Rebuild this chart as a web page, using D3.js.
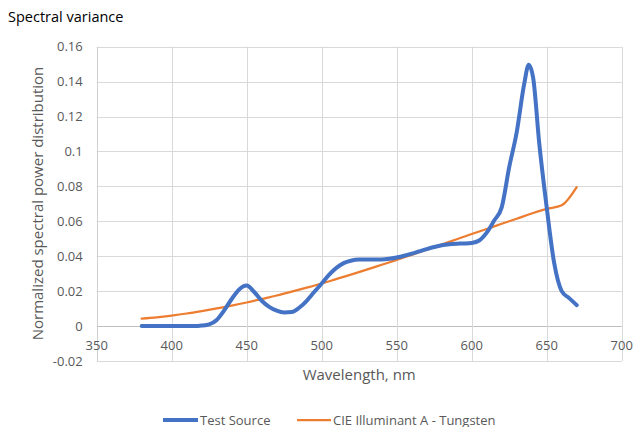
<!DOCTYPE html>
<html><head><meta charset="utf-8">
<script src="https://cdn.jsdelivr.net/npm/d3@7"></script>
<style>body{margin:0;background:#fff}svg{display:block}text{font-family:"Open Sans",sans-serif}</style>
</head><body><svg id="c" width="635" height="427"></svg>
<script>
const title = "Spectral variance";
const xTicks = [350,400,450,500,550,600,650,700];
const yTicks = [-0.02,0,0.02,0.04,0.06,0.08,0.1,0.12,0.14,0.16];
const yTickLabels = ["-0.02","0","0.02","0.04","0.06","0.08","0.1","0.12","0.14","0.16"];
const testWl = [380,385,390,395,400,405,410,415,420,425,430,435,440,445,450,455,460,465,470,475,480,485,490,495,500,505,510,515,520,525,530,535,540,545,550,555,560,565,570,575,580,585,590,595,600,605,610,615,620,625,630,635,638,641,645,650,655,660,665,670];
const testVal = [0,0,0,0,0,0,0,0,0.0003,0.001,0.0035,0.009,0.0155,0.021,0.0232,0.0195,0.0145,0.011,0.0088,0.0078,0.008,0.0105,0.0145,0.0195,0.0244,0.0295,0.0335,0.0362,0.0376,0.0381,0.0382,0.0381,0.0381,0.0385,0.0393,0.0403,0.0415,0.0428,0.0441,0.0453,0.0463,0.0469,0.0472,0.0473,0.0476,0.049,0.0535,0.0605,0.068,0.091,0.111,0.1387,0.1497,0.142,0.105,0.068,0.036,0.020,0.016,0.012];
const cieWl = [380,390,400,410,420,430,440,450,460,470,480,490,500,510,520,530,540,550,560,570,580,590,600,610,620,630,640,650,660,670];
const cieVal = [0.0043,0.005,0.006,0.0072,0.0086,0.0101,0.0117,0.0135,0.0155,0.0175,0.0197,0.022,0.0244,0.027,0.0296,0.0323,0.0351,0.0379,0.0408,0.0437,0.0467,0.0497,0.0527,0.0556,0.0586,0.0615,0.0645,0.0671,0.0692,0.0796];
const seriesNames = ["Test Source","CIE Illuminant A - Tungsten"];
const colors = ["#4472C4","#ED7D31"];

const svg = d3.select("#c");
const L=96.7,R=621.7,T=46.7,B=361;
const x = d3.scaleLinear().domain([350,700]).range([L,R]);
const y = d3.scaleLinear().domain([-0.02,0.16]).range([B,T]);

svg.append("text").attr("x",8).attr("y",22).attr("font-size",14.5).attr("fill","#000").text(title);

const g = svg.append("g");
g.selectAll(".hg").data(yTicks).join("line")
 .attr("x1",L).attr("x2",R).attr("y1",d=>Math.round(y(d))+0.5).attr("y2",d=>Math.round(y(d))+0.5)
 .attr("stroke",d=>d===0?"#bfbfbf":"#d9d9d9").attr("stroke-width",1);
g.selectAll(".vg").data(xTicks).join("line")
 .attr("y1",T).attr("y2",B).attr("x1",d=>Math.round(x(d))+0.5).attr("x2",d=>Math.round(x(d))+0.5)
 .attr("stroke",d=>d===350?"#d0d0d0":"#d9d9d9").attr("stroke-width",1);

svg.selectAll(".yl").data(yTicks).join("text")
 .attr("x",L-14).attr("y",d=>y(d)+4.5).attr("text-anchor","end").attr("font-size",13).attr("fill","#595959")
 .text((d,i)=>yTickLabels[i]);
svg.selectAll(".xl").data(xTicks).join("text")
 .attr("x",d=>x(d)).attr("y",y(0)+24).attr("text-anchor","middle").attr("font-size",13).attr("fill","#595959")
 .text(d=>d);

svg.append("text").attr("x",(L+R)/2).attr("y",379.5).attr("text-anchor","middle").attr("font-size",15).attr("fill","#595959").text("Wavelength, nm");
svg.append("text").attr("transform",`translate(43,${(67+340)/2}) rotate(-90)`).attr("text-anchor","middle").attr("font-size",15).attr("fill","#595959").text("Normalized spectral power distribution");

const line = d3.line().x(d=>x(d[0])).y(d=>y(d[1])).curve(d3.curveMonotoneX);
svg.append("path").datum(cieWl.map((w,i)=>[w,cieVal[i]])).attr("d",line).attr("fill","none").attr("stroke",colors[1]).attr("stroke-width",2.25).attr("stroke-linejoin","round").attr("stroke-linecap","round");
svg.append("path").datum(testWl.map((w,i)=>[w,testVal[i]])).attr("d",line).attr("fill","none").attr("stroke",colors[0]).attr("stroke-width",4).attr("stroke-linejoin","round").attr("stroke-linecap","round");

const lg = [{x1:163,x2:198,tx:200},{x1:297,x2:331,tx:333}];
lg.forEach((p,i)=>{
  svg.append("line").attr("x1",p.x1).attr("x2",p.x2).attr("y1",420).attr("y2",420).attr("stroke",colors[i]).attr("stroke-width",i===0?4:2.25);
  svg.append("text").attr("x",p.tx).attr("y",424.5).attr("font-size",13).attr("fill","#595959").text(seriesNames[i]);
});
</script></body></html>
